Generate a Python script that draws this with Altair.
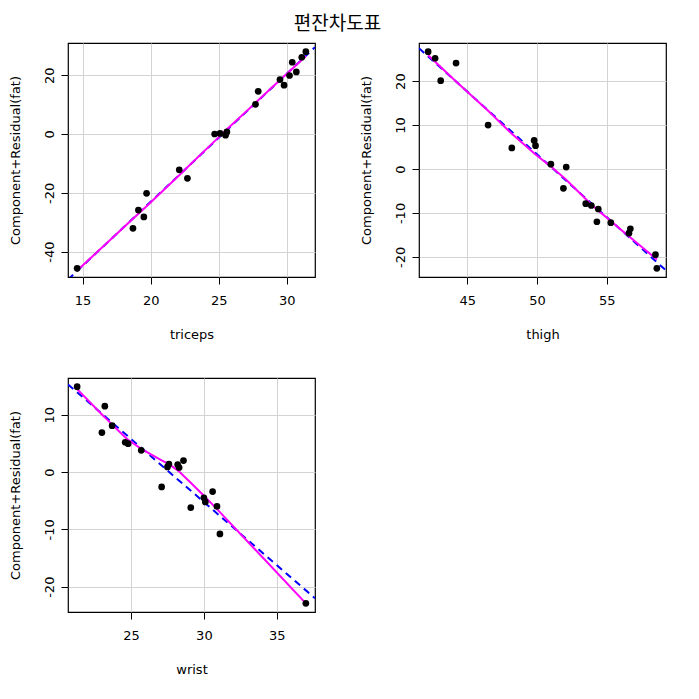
import altair as alt
import pandas as pd

# --- data (component + residual plots) ---
triceps_x = [14.6, 18.7, 19.1, 19.5, 19.7, 22.1, 22.7, 24.7, 25.1, 25.5,
             25.6, 27.7, 27.9, 29.5, 29.8, 30.2, 30.4, 30.7, 31.1, 31.4]
triceps_y = [-45.7, -32.1, -25.9, -28.2, -20.2, -12.2, -15.1, 0.0, 0.2, -0.4,
             0.7, 10.1, 14.5, 18.5, 16.6, 19.9, 24.4, 21.1, 26.1, 28.0]

thigh_x = [42.2, 42.7, 43.1, 44.2, 46.5, 48.2, 49.8, 49.9, 51.0, 51.9,
           52.1, 53.5, 53.9, 54.3, 54.4, 55.3, 56.6, 56.7, 58.5, 58.6]
thigh_y = [26.7, 25.2, 20.1, 24.1, 10.0, 4.8, 6.5, 5.3, 1.1, -4.4,
           0.45, -7.9, -8.3, -12.0, -9.1, -12.2, -14.6, -13.6, -19.5, -22.6]

wrist_x = [21.3, 23.0, 23.2, 23.7, 24.6, 24.8, 25.7, 27.1, 27.5, 27.6,
           28.2, 28.3, 28.6, 29.1, 30.0, 30.1, 30.6, 30.9, 31.1, 37.0]
wrist_y = [14.9, 6.9, 11.5, 8.1, 5.2, 4.95, 3.8, -2.6, 0.9, 1.4,
           1.3, 0.8, 2.0, -6.2, -4.5, -5.2, -3.4, -6.0, -10.8, -22.9]

triceps_xticks = [15, 20, 25, 30]
triceps_yticks = [-40, -20, 0, 20]
thigh_xticks = [45, 50, 55]
thigh_yticks = [-20, -10, 0, 10, 20]
wrist_xticks = [25, 30, 35]
wrist_yticks = [-20, -10, 0, 10]

y_title = "Component+Residual(fat)"
main_title = "편잔차도표"

FONT = "DejaVu Sans"
FS = 13
W, H = 247, 234


def padded(vals, frac=0.04):
    lo, hi = min(vals), max(vals)
    r = hi - lo
    return [lo - frac * r, hi + frac * r]


def panel(xv, yv, xname, xticks, yticks):
    df = pd.DataFrame({"x": xv, "y": yv})
    xd = padded(xv)
    yd = padded(yv)
    xs = alt.Scale(domain=xd, nice=False, zero=False)
    ys = alt.Scale(domain=yd, nice=False, zero=False)
    xax = alt.Axis(values=xticks, title=xname, grid=True, gridColor="#D3D3D3",
                   domain=False, tickColor="black", tickSize=7, labelPadding=10,
                   labelExpr="toString(datum.value)",
                   labelFont=FONT, labelFontSize=FS, labelColor="black",
                   titleFont=FONT, titleFontSize=FS, titleFontWeight="normal",
                   titleColor="black", titlePadding=21, labelFlush=False)
    yax = alt.Axis(values=yticks, title=y_title, grid=True, gridColor="#D3D3D3",
                   domain=False, tickColor="black", tickSize=7, labelPadding=5,
                   labelExpr="toString(datum.value)",
                   labelAngle=270, labelAlign="center", labelBaseline="bottom",
                   labelFont=FONT, labelFontSize=FS, labelColor="black",
                   titleFont=FONT, titleFontSize=FS, titleFontWeight="normal",
                   titleColor="black", titlePadding=21, labelFlush=False)
    base = alt.Chart(df)
    pts = base.mark_circle(size=45, color="black", opacity=1).encode(
        x=alt.X("x:Q", scale=xs, axis=xax),
        y=alt.Y("y:Q", scale=ys, axis=yax),
    )
    reg = base.transform_regression("x", "y", method="linear", extent=xd).mark_line(
        color="#0000FF", strokeWidth=2, strokeDash=[7, 5], clip=True
    ).encode(x=alt.X("x:Q", scale=xs), y=alt.Y("y:Q", scale=ys))
    lo = base.transform_loess("x", "y", bandwidth=0.67).mark_line(
        color="#FF00FF", strokeWidth=2, clip=True
    ).encode(x=alt.X("x:Q", scale=xs), y=alt.Y("y:Q", scale=ys))
    return alt.layer(reg, lo, pts).properties(width=W, height=H)


p1 = panel(triceps_x, triceps_y, "triceps", triceps_xticks, triceps_yticks)
p2 = panel(thigh_x, thigh_y, "thigh", thigh_xticks, thigh_yticks)
p3 = panel(wrist_x, wrist_y, "wrist", wrist_xticks, wrist_yticks)

top = alt.hconcat(p1, p2, spacing=43)
chart = alt.vconcat(top, p3, spacing=35).properties(
    title=alt.TitleParams(main_title, font="Noto Sans CJK KR", fontSize=19,
                          fontWeight="normal", color="black", anchor="middle",
                          offset=8),
    padding={"left": 0, "top": 7, "right": 0, "bottom": 0},
    background="white",
).configure_view(stroke="black", strokeWidth=1.2)

chart.save("out.html", embed_options={"renderer": "svg", "actions": False})
